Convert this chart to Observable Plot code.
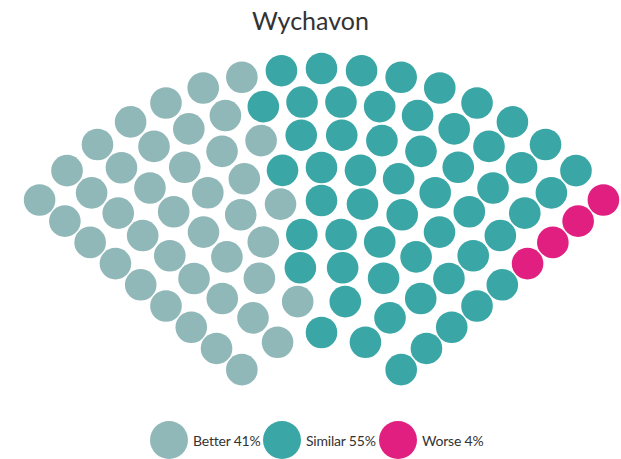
<!DOCTYPE html>
<html><head><meta charset="utf-8">
<script src="https://cdn.jsdelivr.net/npm/d3@7"></script>
<script src="https://cdn.jsdelivr.net/npm/@observablehq/plot@0.6"></script>
<style>
body{margin:0;background:#fff;font-family:Lato,"Open Sans",sans-serif;overflow:hidden;}
#title{height:44px;box-sizing:border-box;padding-top:5px;text-align:center;font-size:25px;line-height:30px;color:#333;}
#chart{height:377px;}
#chart svg{display:block;}
#legend{height:38px;display:flex;align-items:center;padding-left:150px;}
.item{display:flex;align-items:center;}
.sw{width:38px;height:38px;border-radius:50%;margin-right:5px;flex:none;}
.lab{font-size:14px;color:#333;letter-spacing:-0.2px;white-space:nowrap;}
</style></head><body>
<div id="title">Wychavon</div>
<div id="chart"></div>
<div id="legend"></div>
<script>
// Data
const categories = ["Better", "Similar", "Worse"];
const percents = [41, 55, 4];
const colors = ["#91b8b8", "#3aa6a6", "#e01f80"];
// dots per arc row, inner row first
const rowItems = [5, 6, 8, 10, 11, 13, 14, 16, 17];

// Layout (item / parliament fan)
const startAngle = -50, endAngle = 50;
const innerRadius = 104, rowGap = 33;
const legendItemWidths = [113, 116, 100];

const slots = [];
rowItems.forEach((count, row) => {
  const n = count - 1;
  const r = innerRadius + row * rowGap;
  for (let c = 0; c <= n; c++) {
    const a = startAngle + c * (endAngle - startAngle) / n;
    slots.push({row, a, r});
  }
});
slots.sort((p, q) => (Math.abs(p.a - q.a) < 1e-9 ? p.row - q.row : p.a - q.a));
let k = 0;
categories.forEach((cat, i) => {
  for (let j = 0; j < percents[i]; j++, k++) slots[k].cat = cat;
});
slots.forEach(s => {
  const t = s.a * Math.PI / 180;
  s.x = s.r * Math.sin(t);
  s.y = s.r * Math.cos(t);
});

const chart = Plot.plot({
  width: 621, height: 377, margin: 0,
  x: {domain: [-321, 300], axis: null},
  y: {domain: [15, 392], axis: null},
  color: {domain: categories, range: colors},
  marks: [
    Plot.dot(slots, {x: "x", y: "y", r: 15.8, fill: "cat"})
  ]
});
document.getElementById("chart").append(chart);

const legend = document.getElementById("legend");
categories.forEach((cat, i) => {
  const it = document.createElement("div");
  it.className = "item";
  it.style.width = legendItemWidths[i] + "px";
  const sw = document.createElement("div");
  sw.className = "sw";
  sw.style.background = colors[i];
  const lab = document.createElement("span");
  lab.className = "lab";
  lab.textContent = `${cat} ${percents[i]}%`;
  it.append(sw, lab);
  legend.append(it);
});
</script>
</body></html>
